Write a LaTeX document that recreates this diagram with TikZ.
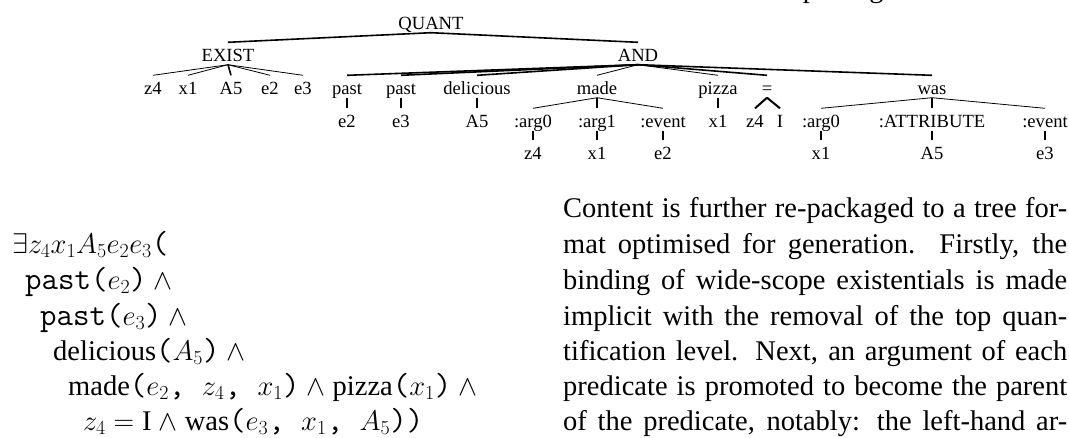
\RequirePackage{fix-cm}
\documentclass[tikz,border=0pt]{standalone}
\usepackage{fontspec}
\setmainfont{Liberation Serif}
\newcommand{\ttp}[1]{{\fontsize{32}{35.5}\selectfont\ttfamily #1}}
\begin{document}
\begin{tikzpicture}[x=1pt,y=-1pt,
  tn/.style={anchor=base, font=\fontsize{18.6}{20}\selectfont, inner xsep=0pt, inner ysep=3.5pt, text height=15pt, text depth=0pt},
  body/.style={anchor=base west, inner sep=0pt, font=\fontsize{28.5}{35.5}\selectfont},
  thn/.style={line width=0.8pt},
  thk/.style={line width=1.6pt},
  vrt/.style={line width=2pt}]
\useasboundingbox (0,0) rectangle (1069,437);
\begin{scope}
\clip (0,0) rectangle (1069,437);
\node[body] (cut) at (771,-3) {re-packaged};
\end{scope}
% tree nodes
\node[tn] (q) at (431,29) {QUANT};
\node[tn] (ex) at (228,61) {EXIST};
\node[tn] (and) at (638,61) {AND};
\node[tn] (ez4) at (153,94) {z4};
\node[tn] (ex1) at (188,94) {x1};
\node[tn] (eA5) at (231,94) {A5};
\node[tn] (ee2) at (270,94) {e2};
\node[tn] (ee3) at (303,94) {e3};
\node[tn] (past1) at (347,94) {past};
\node[tn] (past2) at (401,94) {past};
\node[tn] (del) at (477,94) {delicious};
\node[tn] (made) at (597,94) {made};
\node[tn] (pizza) at (718,94) {pizza};
\node[tn] (eq) at (767,94) {=};
\node[tn] (was) at (932,94) {was};
\node[tn] (p1e2) at (347,127) {e2};
\node[tn] (p2e3) at (401,127) {e3};
\node[tn] (dA5) at (477,127) {A5};
\node[tn] (marg0) at (533,127) {:arg0};
\node[tn] (marg1) at (597,127) {:arg1};
\node[tn] (mevent) at (663,127) {:event};
\node[tn] (px1) at (718,127) {x1};
\node[tn] (eqz4) at (755,127) {z4};
\node[tn] (eqI) at (780,127) {I};
\node[tn] (warg0) at (821,127) {:arg0};
\node[tn] (wattr) at (932,127) {:ATTRIBUTE};
\node[tn] (wevent) at (1045,127) {:event};
\node[tn] (mz4) at (533,159) {z4};
\node[tn] (mx1) at (597,159) {x1};
\node[tn] (me2) at (663,159) {e2};
\node[tn] (wx1) at (821,159) {x1};
\node[tn] (wA5) at (932,159) {A5};
\node[tn] (we3) at (1045,159) {e3};
% tree edges
\draw[thk] (q.south) -- (ex.north);
\draw[thk] (q.south) -- (and.north);
\foreach \c in {ez4,ex1,ee2,ee3} \draw[thn] (ex.south) -- (\c.north);
\draw[thk] (ex.south) -- (eA5.north);
\foreach \c in {past1,past2,del,eq,was} \draw[thk] (and.south) -- (\c.north);
\foreach \c in {made,pizza} \draw[thn] (and.south) -- (\c.north);
\draw[vrt] (past1.south) -- (p1e2.north);
\draw[vrt] (past2.south) -- (p2e3.north);
\draw[vrt] (del.south) -- (dA5.north);
\draw[thn] (made.south) -- (marg0.north);
\draw[vrt] (made.south) -- (marg1.north);
\draw[thn] (made.south) -- (mevent.north);
\draw[vrt] (pizza.south) -- (px1.north);
\draw[vrt] (eq.south) -- (eqz4.north);
\draw[vrt] (eq.south) -- (eqI.north);
\draw[thn] (was.south) -- (warg0.north);
\draw[vrt] (was.south) -- (wattr.north);
\draw[thn] (was.south) -- (wevent.north);
\draw[vrt] (marg0.south) -- (mz4.north);
\draw[vrt] (marg1.south) -- (mx1.north);
\draw[vrt] (mevent.south) -- (me2.north);
\draw[vrt] (warg0.south) -- (wx1.north);
\draw[vrt] (wattr.south) -- (wA5.north);
\draw[vrt] (wevent.south) -- (we3.north);
% formula
\node[body] (f1) at (12,253) {$\exists z_4x_1A_5e_2e_3$\ttp{(}};
\node[body] (f2) at (25,289) {\ttp{past(}$e_2$\ttp{)} $\wedge$};
\node[body] (f3) at (40,325) {\ttp{past(}$e_3$\ttp{)} $\wedge$};
\node[body] (f4) at (53,360) {delicious\ttp{(}$A_5$\ttp{)} $\wedge$};
\node[body] (f5) at (68,395) {made\ttp{(}$e_2$\ttp{, }$z_4$\ttp{, }$x_1$\ttp{)} $\wedge$ pizza\ttp{(}$x_1$\ttp{)} $\wedge$};
\node[body] (f6) at (83,430) {$z_4 = \mbox{I}$ $\wedge$ was\ttp{(}$e_3$\ttp{, }$x_1$\ttp{, }$A_5$\ttp{))}};
% paragraph
\node[body] (p1) at (563,217) {\makebox[504pt][s]{Content is further re-packaged to a tree for-}};
\node[body] (p2) at (563,253) {\makebox[504pt][s]{mat optimised for generation. Firstly, the}};
\node[body] (p3) at (563,289) {\makebox[504pt][s]{binding of wide-scope existentials is made}};
\node[body] (p4) at (563,325) {\makebox[504pt][s]{implicit with the removal of the top quan-}};
\node[body] (p5) at (563,360) {\makebox[504pt][s]{tification level. Next, an argument of each}};
\node[body] (p6) at (563,395) {\makebox[504pt][s]{predicate is promoted to become the parent}};
\node[body] (p7) at (563,430) {\makebox[504pt][s]{of the predicate, notably: the left-hand ar-}};
\end{tikzpicture}
\end{document}
